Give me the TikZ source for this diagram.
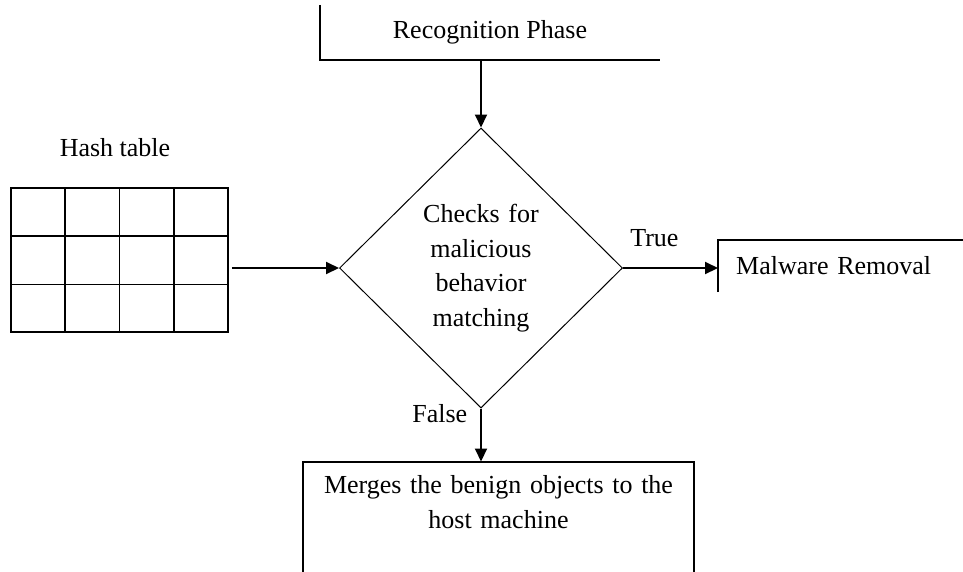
\documentclass[tikz,border=0pt]{standalone}
\usepackage{fontspec}
\setmainfont{Liberation Serif}
\usepackage{tikz}
\usetikzlibrary{positioning, arrows.meta, shapes.geometric, calc}

\begin{document}
\begin{tikzpicture}[x=1pt, y=1pt, node distance=2cm, auto,
    font=\fontsize{26pt}{34.7pt}\selectfont,
    flow/.style={-{Triangle[length=13pt, width=12pt]}, line width=2pt},
    boxline/.style={line width=2pt},
    gridline/.style={line width=1.5pt},
    decision/.style={diamond, draw, line width=1pt, minimum width=283pt, minimum height=280pt, inner sep=0pt, text width=140pt, align=center}]

    \useasboundingbox (0,0) rectangle (963,-571);

    \node (check) [decision] at (481,-268) {Checks for\\malicious\\behavior\\matching};

    \node (recog) [minimum width=340pt, minimum height=55pt] at (490,-32.5) {Recognition Phase};

    \draw[boxline] (recog.north west) -- (recog.south west) -- (recog.south east);

    \node (hash) [draw, gridline, minimum width=217pt, minimum height=144pt, inner sep=0pt] at (119.5,-260) {};

    \foreach \i in {1,2,3}
        \draw[gridline] ($(hash.north west)!\i/4!(hash.north east)$) -- ($(hash.south west)!\i/4!(hash.south east)$);

    \foreach \i in {1,2}
        \draw[gridline] ($(hash.north west)!\i/3!(hash.south west)$) -- ($(hash.north east)!\i/3!(hash.south east)$);

    \node (hashlabel) [above=27pt of hash, xshift=-4.5pt] {Hash table};

    \node (malware) [anchor=west, text width=209pt, inner xsep=18pt, minimum height=52pt, align=left] at (718,-266) {Malware Removal};

    \draw[boxline] (malware.south west) -- (malware.north west) -- (malware.north east);

    \node (merge) [below=53pt of check, xshift=17.5pt, text width=371pt, inner xsep=10pt, inner ysep=14pt, align=center] {Merges the benign objects to the\\host machine};

    \draw[boxline] (merge.north west) ++(0,-110pt) -- (merge.north west) -- (merge.north east) -- ++(0,-110pt);

    \draw[flow] (recog.south -| check.north) -- (check.north);

    \draw[flow, shorten <=3pt] (hash.east |- check.west) -- (check.west);

    \draw[flow] (check.east) -- node[above=16.5pt, pos=0.33] (truelabel) {True} (check.east -| malware.west);

    \draw[flow] (check.south) -- node[left=9.4pt, pos=0.1] (falselabel) {False} (merge.north -| check.south);

\end{tikzpicture}
\end{document}
